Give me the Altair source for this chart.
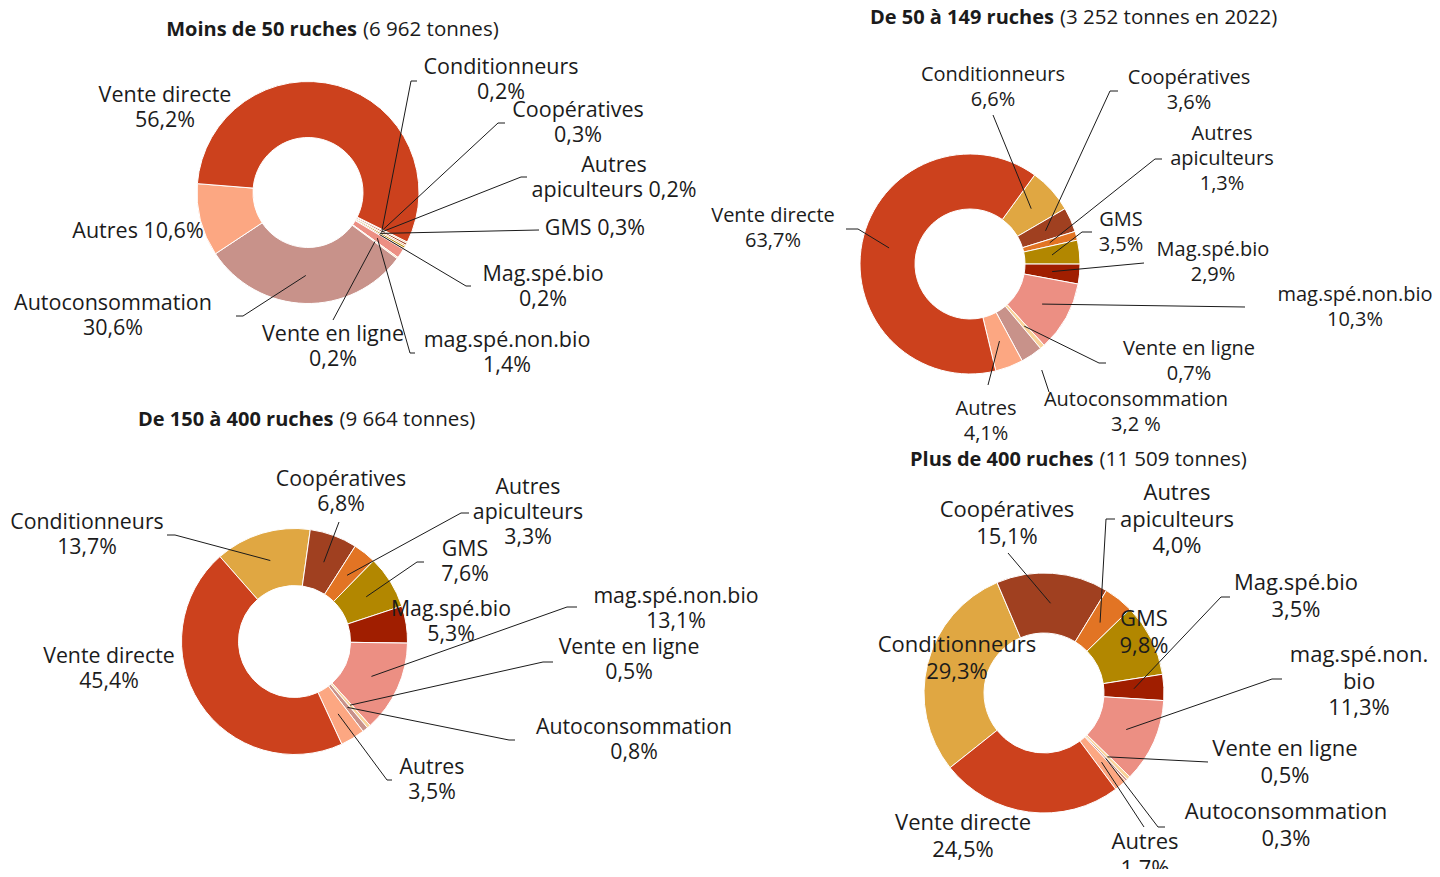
import altair as alt
import pandas as pd

# ---------------- data ----------------
CATEGORIES = ["Conditionneurs", "Coopératives", "Autres apiculteurs", "GMS", "Mag.spé.bio",
              "mag.spé.non.bio", "Vente en ligne", "Autoconsommation", "Autres", "Vente directe"]
COLORS = ["#E0A742", "#A04020", "#E27424", "#B28700", "#A01E00",
          "#EC8F83", "#F9D39A", "#C8928A", "#FCA782", "#CC411D"]

TITLES_BOLD = ["Moins de 50 ruches", "De 50 à 149 ruches", "De 150 à 400 ruches", "Plus de 400 ruches"]
TITLES_REST = ["(6 962 tonnes)", "(3 252 tonnes en 2022)", "(9 664 tonnes)", "(11 509 tonnes)"]

SHARES_LT50 = [0.2, 0.3, 0.2, 0.3, 0.2, 1.4, 0.2, 30.6, 10.6, 56.2]
SHARES_50_149 = [6.6, 3.6, 1.3, 3.5, 2.9, 10.3, 0.7, 3.2, 4.1, 63.7]
SHARES_150_400 = [13.7, 6.8, 3.3, 7.6, 5.3, 13.1, 0.5, 0.8, 3.5, 45.4]
SHARES_GT400 = [29.3, 15.1, 4.0, 9.8, 3.5, 11.3, 0.5, 0.3, 1.7, 24.5]
SHARES = [SHARES_LT50, SHARES_50_149, SHARES_150_400, SHARES_GT400]

LABELS_LT50 = {
    "Vente directe": ["Vente directe", "56,2%"],
    "Autres": ["Autres 10,6%"],
    "Autoconsommation": ["Autoconsommation", "30,6%"],
    "Conditionneurs": ["Conditionneurs", "0,2%"],
    "Coopératives": ["Coopératives", "0,3%"],
    "Autres apiculteurs": ["Autres", "apiculteurs 0,2%"],
    "GMS": ["GMS 0,3%"],
    "Mag.spé.bio": ["Mag.spé.bio", "0,2%"],
    "mag.spé.non.bio": ["mag.spé.non.bio", "1,4%"],
    "Vente en ligne": ["Vente en ligne", "0,2%"],
}
LABELS_50_149 = {
    "Conditionneurs": ["Conditionneurs", "6,6%"],
    "Coopératives": ["Coopératives", "3,6%"],
    "Autres apiculteurs": ["Autres", "apiculteurs", "1,3%"],
    "GMS": ["GMS", "3,5%"],
    "Mag.spé.bio": ["Mag.spé.bio", "2,9%"],
    "mag.spé.non.bio": ["mag.spé.non.bio", "10,3%"],
    "Vente en ligne": ["Vente en ligne", "0,7%"],
    "Autoconsommation": ["Autoconsommation", "3,2 %"],
    "Autres": ["Autres", "4,1%"],
    "Vente directe": ["Vente directe", "63,7%"],
}
LABELS_150_400 = {
    "Conditionneurs": ["Conditionneurs", "13,7%"],
    "Coopératives": ["Coopératives", "6,8%"],
    "Autres apiculteurs": ["Autres", "apiculteurs", "3,3%"],
    "GMS": ["GMS", "7,6%"],
    "Mag.spé.bio": ["Mag.spé.bio", "5,3%"],
    "mag.spé.non.bio": ["mag.spé.non.bio", "13,1%"],
    "Vente en ligne": ["Vente en ligne", "0,5%"],
    "Autoconsommation": ["Autoconsommation", "0,8%"],
    "Autres": ["Autres", "3,5%"],
    "Vente directe": ["Vente directe", "45,4%"],
}
LABELS_GT400 = {
    "Coopératives": ["Coopératives", "15,1%"],
    "Autres apiculteurs": ["Autres", "apiculteurs", "4,0%"],
    "GMS": ["GMS", "9,8%"],
    "Mag.spé.bio": ["Mag.spé.bio", "3,5%"],
    "mag.spé.non.bio": ["mag.spé.non.", "bio", "11,3%"],
    "Vente en ligne": ["Vente en ligne", "0,5%"],
    "Autoconsommation": ["Autoconsommation", "0,3%"],
    "Autres": ["Autres", "1,7%"],
    "Conditionneurs": ["Conditionneurs", "29,3%"],
    "Vente directe": ["Vente directe", "24,5%"],
}
LABELS = [LABELS_LT50, LABELS_50_149, LABELS_150_400, LABELS_GT400]

# ---------------- layout (page pixels) ----------------
OFF = 8
LAYOUT = [
    dict(cx=308, cy=192.5, ri=55, ro=111, start=116.5, fs=21.5, lh=25, tx=360, ty=30),
    dict(cx=970, cy=264, ri=55, ro=110, start=36, fs=20, lh=25, tx=1057, ty=18),
    dict(cx=294.5, cy=641.5, ri=56, ro=113, start=318.7, fs=21.3, lh=25, tx=336.5, ty=420),
    dict(cx=1044, cy=693, ri=60, ro=120, start=231.5, fs=22, lh=26.5, tx=1096.5, ty=460),
]
LABEL_POS = [
    {"Vente directe": (165, 96), "Autres": (138, 232), "Autoconsommation": (113, 304),
     "Conditionneurs": (501, 68), "Coopératives": (578, 111), "Autres apiculteurs": (614, 166),
     "GMS": (595, 229), "Mag.spé.bio": (543, 275), "mag.spé.non.bio": (507, 341),
     "Vente en ligne": (333, 335)},
    {"Conditionneurs": (993, 75), "Coopératives": (1189, 78), "Autres apiculteurs": (1222, 134),
     "GMS": (1121, 220), "Mag.spé.bio": (1213, 250), "mag.spé.non.bio": (1355, 295),
     "Vente en ligne": (1189, 349), "Autoconsommation": (1136, 400), "Autres": (986, 409),
     "Vente directe": (773, 216)},
    {"Conditionneurs": (87, 523), "Coopératives": (341, 480), "Autres apiculteurs": (528, 488),
     "GMS": (465, 550), "Mag.spé.bio": (451, 610), "mag.spé.non.bio": (676, 597),
     "Vente en ligne": (629, 648), "Autoconsommation": (634, 728), "Autres": (432, 768),
     "Vente directe": (109, 657)},
    {"Coopératives": (1007, 510), "Autres apiculteurs": (1177, 493), "GMS": (1144, 619),
     "Mag.spé.bio": (1296, 583), "mag.spé.non.bio": (1359, 655), "Vente en ligne": (1285, 749),
     "Autoconsommation": (1286, 812), "Autres": (1145, 842), "Conditionneurs": (957, 645),
     "Vente directe": (963, 823)},
]
# leader: label anchor (ax, ay), elbow (bx, by), end radius (0 = middle of ring)
LEADERS = [
    {"Conditionneurs": (417, 81, 411, 81, 0), "Coopératives": (505, 123, 498, 123, 0),
     "Autres apiculteurs": (527, 177, 521, 177, 0), "GMS": (539, 230, 539, 230, 0),
     "Mag.spé.bio": (471, 286, 466, 286, 0), "mag.spé.non.bio": (415, 353, 410, 353, 0),
     "Vente en ligne": (333, 320, 333, 320, 0), "Autoconsommation": (236, 316, 243, 316, 0)},
    {"Conditionneurs": (993, 115, 993, 115, 0), "Coopératives": (1118, 91, 1110, 91, 0),
     "Autres apiculteurs": (1162, 159, 1155, 159, 0), "GMS": (1092, 232, 1082, 232, 0),
     "Mag.spé.bio": (1144, 263, 1144, 263, 0), "mag.spé.non.bio": (1245, 307, 1245, 307, 0),
     "Vente en ligne": (1106, 363, 1099, 363, 0), "Autoconsommation": (1049, 392, 1049, 392, 128),
     "Autres": (988, 385, 988, 385, 0), "Vente directe": (846, 229, 858, 229, 0)},
    {"Conditionneurs": (167, 535, 175, 535, 0), "Coopératives": (339, 522, 339, 522, 0),
     "Autres apiculteurs": (469, 513, 461, 513, 0), "GMS": (424, 562, 417, 562, 0),
     "mag.spé.non.bio": (577, 607, 567, 607, 0), "Vente en ligne": (553, 662, 543, 662, 0),
     "Autoconsommation": (515, 740, 509, 740, 0), "Autres": (392, 780, 387, 780, 0)},
    {"Coopératives": (1008, 553, 1008, 553, 0), "Autres apiculteurs": (1115, 519, 1106, 519, 0),
     "Mag.spé.bio": (1230, 597, 1221, 597, 0), "mag.spé.non.bio": (1282, 679, 1272, 679, 0),
     "Vente en ligne": (1208, 762, 1208, 762, 0), "Autoconsommation": (1165, 827, 1158, 827, 0),
     "Autres": (1144, 827, 1144, 827, 0)},
]

FONT = "Open Sans"
INK = "#1b1b1b"

# ---------------- tables ----------------
rows = []
for k, (vals, lay) in enumerate(zip(SHARES, LAYOUT)):
    for i, (cat, v) in enumerate(zip(CATEGORIES, vals)):
        lead = LEADERS[k].get(cat)
        r = dict(chart=k, idx=i, cat=cat, v=v, cx=lay["cx"] - OFF, cy=lay["cy"] - OFF,
                 ri=lay["ri"], ro=lay["ro"], start=lay["start"], lead=1 if lead else 0,
                 ax=0.0, ay=0.0, bx=0.0, by=0.0, re=0.0)
        if lead:
            r.update(ax=lead[0] - OFF, ay=lead[1] - OFF, bx=lead[2] - OFF, by=lead[3] - OFF, re=lead[4])
        rows.append(r)
slices_df = pd.DataFrame(rows)

lrows = []
for k, lay in enumerate(LAYOUT):
    for cat, lines in LABELS[k].items():
        x, y = LABEL_POS[k][cat]
        for j, line in enumerate(lines):
            lrows.append(dict(text=line, lx=x - OFF, ly=y - OFF, line=j, lh=lay["lh"], fs=lay["fs"]))
labels_df = pd.DataFrame(lrows)

trows = []
for k, lay in enumerate(LAYOUT):
    trows.append(dict(bold=TITLES_BOLD[k], rest=TITLES_REST[k],
                      xb=lay["tx"] - 3 - OFF, xr=lay["tx"] + 3 - OFF, y=lay["ty"] - OFF))
titles_df = pd.DataFrame(trows)

# ---------------- chart ----------------
base = (
    alt.Chart(slices_df)
    .transform_joinaggregate(total="sum(v)", groupby=["chart"])
    .transform_window(cum="sum(v)", sort=[alt.SortField("idx")], groupby=["chart"], frame=[None, 0])
    .transform_calculate(a1="datum.start*PI/180 + 2*PI*datum.cum/datum.total")
    .transform_calculate(a0="datum.a1 - 2*PI*datum.v/datum.total")
    .transform_calculate(mid="(datum.a0 + datum.a1)/2")
)

arcs = base.mark_arc(stroke="white", strokeWidth=1).encode(
    theta=alt.Theta("a0:Q", scale=None),
    theta2="a1:Q",
    radius=alt.Radius("ro:Q", scale=None),
    radius2="ri:Q",
    x=alt.X("cx:Q", scale=None),
    y=alt.Y("cy:Q", scale=None),
    color=alt.Color("cat:N", scale=alt.Scale(domain=CATEGORIES, range=COLORS), legend=None),
)

lead_base = (
    base.transform_filter("datum.lead == 1")
    .transform_calculate(rr="datum.re > 0 ? datum.re : (datum.ri + datum.ro)/2")
    .transform_calculate(ex="datum.cx + datum.rr*sin(datum.mid)")
    .transform_calculate(ey="datum.cy - datum.rr*cos(datum.mid)")
)
stubs = lead_base.mark_rule(color=INK, strokeWidth=1).encode(
    x=alt.X("ax:Q", scale=None), y=alt.Y("ay:Q", scale=None), x2="bx:Q", y2="by:Q"
)
lines = lead_base.mark_rule(color=INK, strokeWidth=1).encode(
    x=alt.X("bx:Q", scale=None), y=alt.Y("by:Q", scale=None), x2="ex:Q", y2="ey:Q"
)

labels = (
    alt.Chart(labels_df)
    .transform_calculate(yy="datum.ly + datum.line*datum.lh")
    .mark_text(font=FONT, color=INK, align="center", baseline="middle")
    .encode(
        x=alt.X("lx:Q", scale=None),
        y=alt.Y("yy:Q", scale=None),
        text="text:N",
        size=alt.Size("fs:Q", scale=None),
    )
)

title_bold = alt.Chart(titles_df).mark_text(
    font=FONT, fontSize=20, fontWeight="bold", color=INK, align="right", baseline="middle"
).encode(x=alt.X("xb:Q", scale=None), y=alt.Y("y:Q", scale=None), text="bold:N")
title_rest = alt.Chart(titles_df).mark_text(
    font=FONT, fontSize=20.5, color=INK, align="left", baseline="middle"
).encode(x=alt.X("xr:Q", scale=None), y=alt.Y("y:Q", scale=None), text="rest:N")

chart = (
    alt.layer(arcs, stubs, lines, labels, title_bold, title_rest)
    .properties(width=1424, height=861, padding=0, autosize="none")
    .configure_view(stroke=None)
)

chart.save("out.html", embed_options={"renderer": "svg", "actions": False})
